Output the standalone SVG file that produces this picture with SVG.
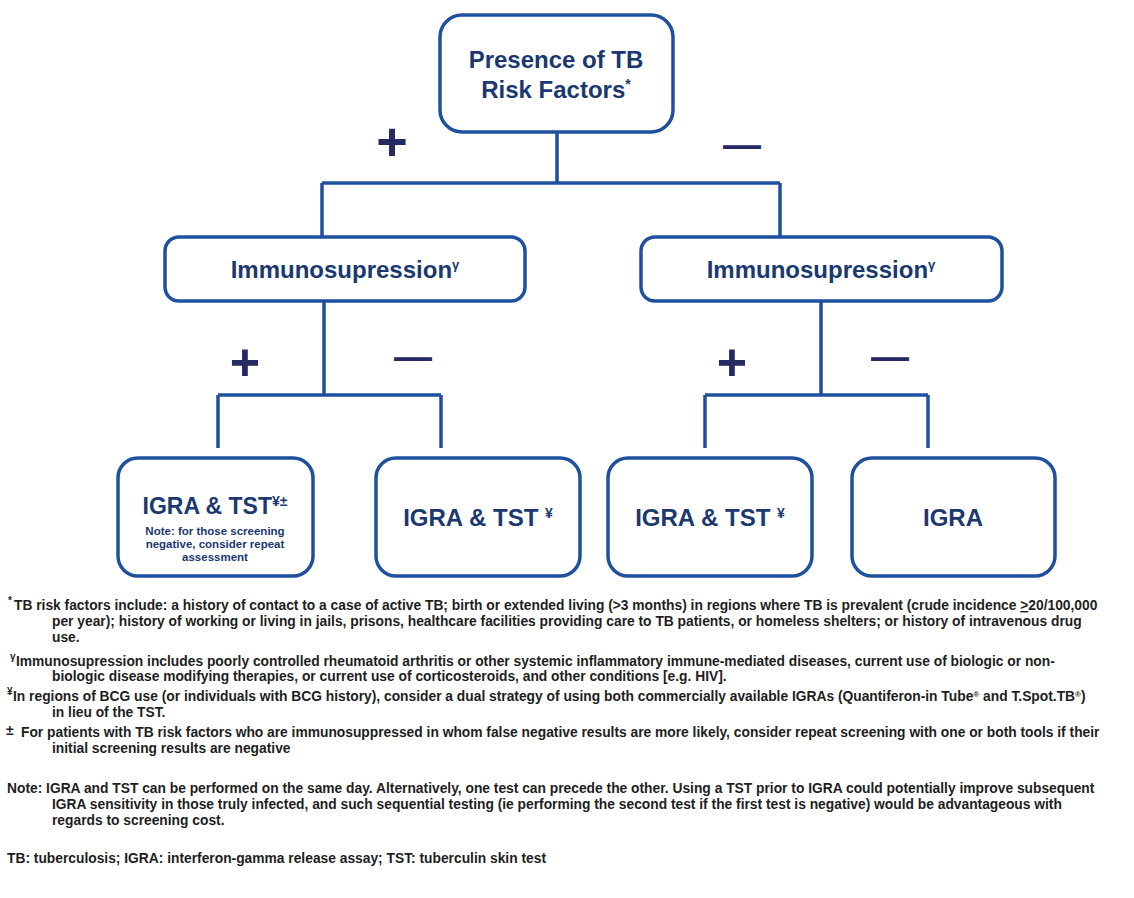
<svg xmlns="http://www.w3.org/2000/svg" width="1134" height="898" viewBox="0 0 1134 898">
<style>
.box{fill:#fff;stroke:#1f509e;stroke-width:3.5}
.conn{fill:none;stroke:#1f509e;stroke-width:3.5}
.nt{font-family:"Liberation Sans",Arial,sans-serif;font-weight:bold;fill:#1b3870;text-anchor:middle}
.sign{font-family:"Liberation Sans",Arial,sans-serif;font-weight:bold;fill:#262a63;text-anchor:middle}
.fn{font-family:"Liberation Sans",Arial,sans-serif;font-weight:bold;fill:#1e1e1e;font-size:13.8px}
.sup{font-size:10px}
</style>
<rect width="1134" height="898" fill="#fff"/>
<g id="connectors">
<path class="conn" d="M557,132V183M322,183H780M322,183V237M780,183V237"/>
<path class="conn" d="M324,301V395M218,395H441M218,395V448M441,395V448"/>
<path class="conn" d="M821,301V395M705,395H928M705,395V448M928,395V448"/>
<text class="sign" x="392" y="160" font-size="54">+</text>
<text class="sign" x="742" y="158" font-size="38">—</text>
<text class="sign" x="245" y="380" font-size="52">+</text>
<text class="sign" x="413" y="370" font-size="38">—</text>
<text class="sign" x="732" y="380" font-size="52">+</text>
<text class="sign" x="890" y="370" font-size="38">—</text>
</g>
<g id="node-risk">
<rect class="box" x="440" y="15" width="233" height="117" rx="22"/>
<text class="nt" x="556" y="68" font-size="24">Presence of TB</text>
<text class="nt" x="556" y="98" font-size="24">Risk Factors<tspan font-size="14" dy="-9">*</tspan></text>
</g>
<g id="node-immuno-left">
<rect class="box" x="165" y="237" width="360" height="64" rx="14"/>
<text class="nt" x="345" y="278" font-size="24">Immunosupression<tspan font-size="13" dy="-9">γ</tspan></text>
</g>
<g id="node-immuno-right">
<rect class="box" x="641" y="237" width="361" height="64" rx="14"/>
<text class="nt" x="821" y="278" font-size="24">Immunosupression<tspan font-size="13" dy="-9">γ</tspan></text>
</g>
<g id="node-leaf1">
<rect class="box" x="118" y="458" width="195" height="118" rx="20"/>
<text class="nt" x="215" y="514" font-size="23">IGRA &amp; TST<tspan font-size="14" dy="-8">¥±</tspan></text>
<text class="nt" x="215" y="535" font-size="11.5">Note: for those screening</text>
<text class="nt" x="215" y="548" font-size="11.5">negative, consider repeat</text>
<text class="nt" x="215" y="561" font-size="11.5">assessment</text>
</g>
<g id="node-leaf2">
<rect class="box" x="376" y="458" width="204" height="118" rx="20"/>
<text class="nt" x="478" y="526" font-size="24">IGRA &amp; TST <tspan font-size="14" dy="-8">¥</tspan></text>
</g>
<g id="node-leaf3">
<rect class="box" x="608" y="458" width="204" height="118" rx="20"/>
<text class="nt" x="710" y="526" font-size="24">IGRA &amp; TST <tspan font-size="14" dy="-8">¥</tspan></text>
</g>
<g id="node-leaf4">
<rect class="box" x="852" y="458" width="203" height="118" rx="20"/>
<text class="nt" x="953" y="526" font-size="24">IGRA</text>
</g>
<g id="footnotes">
<text class="fn sup" x="8" y="604">*</text>
<text class="fn" x="14" y="610">TB risk factors include: a history of contact to a case of active TB; birth or extended living (&gt;3 months) in regions where TB is prevalent (crude incidence <tspan text-decoration="underline">&gt;</tspan>20/100,000</text>
<text class="fn" x="52" y="626">per year); history of working or living in jails, prisons, healthcare facilities providing care to TB patients, or homeless shelters; or history of intravenous drug</text>
<text class="fn" x="52" y="642">use.</text>
<text class="fn sup" x="10" y="660">γ</text>
<text class="fn" x="16" y="666">Immunosupression includes poorly controlled rheumatoid arthritis or other systemic inflammatory immune-mediated diseases, current use of biologic or non-</text>
<text class="fn" x="52" y="681">biologic disease modifying therapies, or current use of corticosteroids, and other conditions [e.g. HIV].</text>
<text class="fn sup" x="7" y="695">¥</text>
<text class="fn" x="13" y="701">In regions of BCG use (or individuals with BCG history), consider a dual strategy of using both commercially available IGRAs (Quantiferon-in Tube<tspan font-size="8" dy="-4">®</tspan><tspan dy="4"> and T.Spot.TB</tspan><tspan font-size="8" dy="-4">®</tspan><tspan dy="4">)</tspan></text>
<text class="fn" x="52" y="717">in lieu of the TST.</text>
<text class="fn" x="6" y="735" font-size="12">±</text>
<text class="fn" x="21" y="737">For patients with TB risk factors  who are immunosuppressed in whom false negative results are more likely, consider repeat screening with one or both tools if their</text>
<text class="fn" x="52" y="753">initial screening results are negative</text>
<text class="fn" x="7" y="793">Note: IGRA and TST can be performed on the same day. Alternatively, one test can precede the other.  Using a TST prior to IGRA could potentially improve subsequent</text>
<text class="fn" x="52" y="809">IGRA sensitivity in those truly infected, and such sequential testing (ie performing the second test if the first test is negative) would  be advantageous with</text>
<text class="fn" x="52" y="825">regards to screening cost.</text>
<text class="fn" x="7" y="863">TB: tuberculosis; IGRA: interferon-gamma release assay; TST: tuberculin skin test</text>
</g>
</svg>
